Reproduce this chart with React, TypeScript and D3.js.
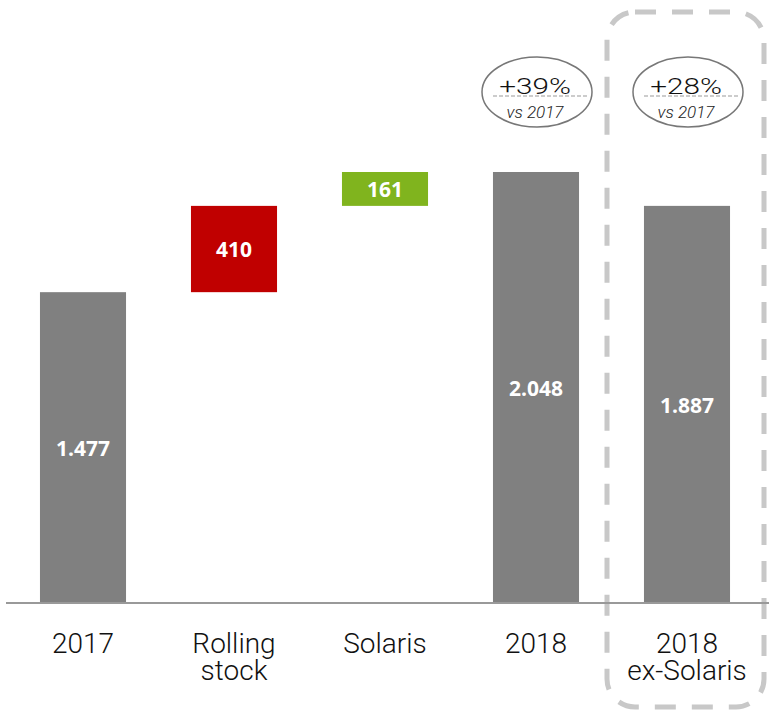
import React from "react";
import * as d3 from "d3";

// waterfall data
const categories = ["2017", "Rolling stock", "Solaris", "2018", "2018 ex-Solaris"];
const catLines = [["2017"], ["Rolling", "stock"], ["Solaris"], ["2018"], ["2018", "ex-Solaris"]];
const starts = [0, 1477, 1887, 0, 0];
const ends = [1477, 1887, 2048, 2048, 1887];
const valueLabels = ["1.477", "410", "161", "2.048", "1.887"];
const barColors = ["#808080", "#c00000", "#80b41e", "#808080", "#808080"];
const bubbles = [
    { cat: "2018", pct: "+39%", sub: "vs 2017" },
    { cat: "2018 ex-Solaris", pct: "+28%", sub: "vs 2017" },
];

const width = 769;
const height = 711;
const baseline = 603;
const labelFont = "Roboto, 'Liberation Sans', sans-serif";

export default function App() {
    const x = d3.scaleBand()
        .domain(categories)
        .range([7.5, 762.5])
        .paddingInner(0.43)
        .paddingOuter(0.215);

    const y = d3.scaleLinear()
        .domain([0, 2048])
        .range([baseline, 172]);

    const bw = x.bandwidth();

    return (
        <svg width={width} height={height} style={{ display: "block", position: "absolute", left: 0, top: 0 }}>
            {/* highlight box around the last column */}
            <rect x={607} y={12} width={157} height={695} rx={28} ry={28}
                fill="none" stroke="#c8c8c8" strokeWidth={5} strokeDasharray="21 16" />

            {categories.map((c, i) => {
                const top = y(ends[i]);
                const bottom = y(starts[i]);
                const x0 = x(c)!;
                return (
                    <g key={c}>
                        <rect x={x0} y={top} width={bw} height={bottom - top} fill={barColors[i]} />
                        <text x={x0 + bw / 2} y={(top + bottom) / 2 + 1} dy="0.35em" textAnchor="middle"
                            fill="#fff" fontFamily="'Open Sans', Lato, sans-serif" fontWeight="bold" fontSize={21}>
                            {valueLabels[i]}
                        </text>
                    </g>
                );
            })}

            {/* x axis */}
            <line x1={6} x2={769} y1={baseline} y2={baseline} stroke="#999" strokeWidth={2} />
            {categories.map((c, i) => (
                <text key={c} x={x(c)! + bw / 2} y={653} textAnchor="middle"
                    fontFamily={labelFont} fontWeight={300} fontSize={28} fill="#111">
                    {catLines[i].map((l, j) => (
                        <tspan key={j} x={x(c)! + bw / 2} dy={j === 0 ? 0 : 27}>{l}</tspan>
                    ))}
                </text>
            ))}

            {/* growth bubbles */}
            {bubbles.map((b) => {
                const cx = x(b.cat)! + bw / 2 + 1;
                return (
                    <g key={b.cat}>
                        <ellipse cx={cx} cy={92} rx={55} ry={35} fill="#fff" stroke="#777" strokeWidth={1.5} />
                        <line x1={cx - 44} x2={cx + 50} y1={96} y2={96} stroke="#999" strokeWidth={1.2} strokeDasharray="4 2" />
                        <g transform={`translate(${cx - 2},94) scale(1.35,1)`}>
                            <text x={0} y={0} textAnchor="middle" fontFamily={labelFont}
                                fontWeight={300} fontSize={22} fill="#111">{b.pct}</text>
                        </g>
                        <text x={cx - 2} y={118} textAnchor="middle" fontFamily={labelFont}
                            fontWeight={300} fontStyle="italic" fontSize={17} fill="#222">{b.sub}</text>
                    </g>
                );
            })}
        </svg>
    );
}
